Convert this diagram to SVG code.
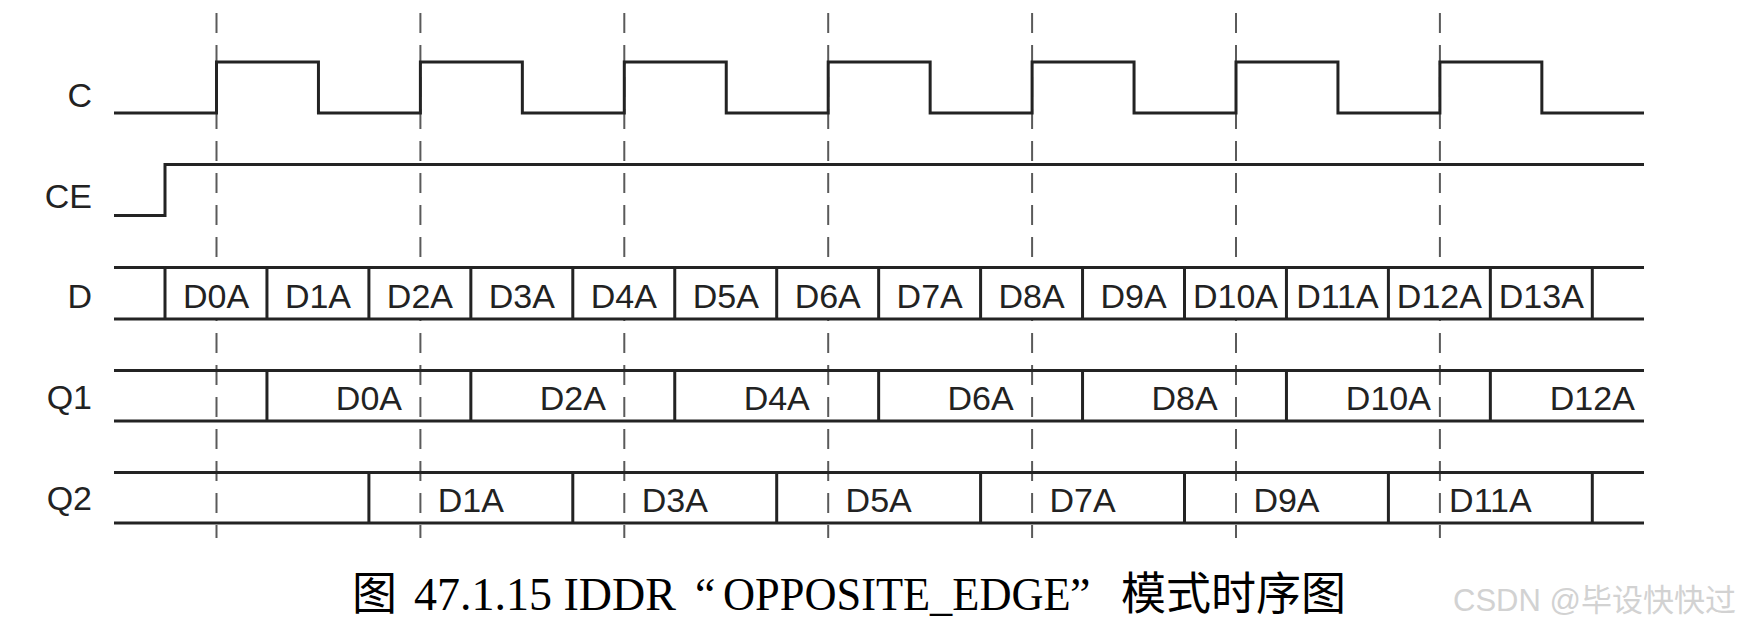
<svg xmlns="http://www.w3.org/2000/svg" width="1758" height="626" viewBox="0 0 1758 626">
<style>
.sig{fill:none;stroke:#232323;stroke-width:3;stroke-linejoin:miter;stroke-linecap:butt}
.guide{fill:none;stroke:#5a5a5a;stroke-width:2;stroke-dasharray:20 12}
.lbl{font-family:"Liberation Sans",Arial,sans-serif;font-size:34px;fill:#222;text-anchor:end}
.val{font-family:"Liberation Sans",Arial,sans-serif;font-size:34px;fill:#222;text-anchor:middle}
.cap{font-family:"Liberation Serif","Times New Roman",serif;font-size:46px;fill:#000}
.cjk{font-family:"Noto Sans CJK SC",sans-serif;font-size:45px;fill:#000}
.wm{font-family:"Liberation Sans","Noto Sans CJK SC",sans-serif;font-size:31px;fill:#d2d2d2}
</style>
<rect x="0" y="0" width="1758" height="626" fill="#ffffff"/>

<g id="connectors">
  <g id="guides-upper">
    <path class="guide" d="M216.5,13V267M420.4,13V267M624.3,13V267M828.2,13V267M1032.1,13V267M1236,13V267M1439.9,13V267"/>
  </g>
  <g id="guides-lower">
    <path class="guide" style="stroke-dashoffset:18" d="M216.5,319V538M420.4,319V538M624.3,319V538M828.2,319V538M1032.1,319V538M1236,319V538M1439.9,319V538"/>
  </g>
</g>

<g id="sig-C">
  <text class="lbl" x="92" y="107">C</text>
  <path class="sig" d="M114,113H216.5V62H318.45V113H420.4V62H522.35V113H624.3V62H726.25V113H828.2V62H930.15V113H1032.1V62H1134.05V113H1236V62H1337.95V113H1439.9V62H1541.85V113H1644"/>
</g>

<g id="sig-CE">
  <text class="lbl" x="92" y="208">CE</text>
  <path class="sig" d="M114,215.5H165V164.5H1644"/>
</g>

<g id="sig-D">
  <text class="lbl" x="92" y="308">D</text>
  <path class="sig" d="M114,267.5H1644M114,319H1644M165,267.5V319M266.95,267.5V319M368.9,267.5V319M470.85,267.5V319M572.8,267.5V319M674.75,267.5V319M776.7,267.5V319M878.65,267.5V319M980.6,267.5V319M1082.55,267.5V319M1184.5,267.5V319M1286.45,267.5V319M1388.4,267.5V319M1490.35,267.5V319M1592.3,267.5V319"/>
  <text class="val" x="216" y="307.5">D0A</text>
  <text class="val" x="317.95" y="307.5">D1A</text>
  <text class="val" x="419.9" y="307.5">D2A</text>
  <text class="val" x="521.85" y="307.5">D3A</text>
  <text class="val" x="623.8" y="307.5">D4A</text>
  <text class="val" x="725.75" y="307.5">D5A</text>
  <text class="val" x="827.7" y="307.5">D6A</text>
  <text class="val" x="929.65" y="307.5">D7A</text>
  <text class="val" x="1031.6" y="307.5">D8A</text>
  <text class="val" x="1133.55" y="307.5">D9A</text>
  <text class="val" x="1235.5" y="307.5">D10A</text>
  <text class="val" x="1337.45" y="307.5">D11A</text>
  <text class="val" x="1439.4" y="307.5">D12A</text>
  <text class="val" x="1541.35" y="307.5">D13A</text>
</g>

<g id="sig-Q1">
  <text class="lbl" x="92" y="409">Q1</text>
  <path class="sig" d="M114,370.5H1644M114,421H1644M266.95,370.5V421M470.85,370.5V421M674.75,370.5V421M878.65,370.5V421M1082.55,370.5V421M1286.45,370.5V421M1490.35,370.5V421"/>
  <text class="val" x="368.9" y="409.5">D0A</text>
  <text class="val" x="572.8" y="409.5">D2A</text>
  <text class="val" x="776.7" y="409.5">D4A</text>
  <text class="val" x="980.6" y="409.5">D6A</text>
  <text class="val" x="1184.5" y="409.5">D8A</text>
  <text class="val" x="1388.4" y="409.5">D10A</text>
  <text class="val" x="1592.3" y="409.5">D12A</text>
</g>

<g id="sig-Q2">
  <text class="lbl" x="92" y="510">Q2</text>
  <path class="sig" d="M114,472.5H1644M114,523H1644M368.9,472.5V523M572.8,472.5V523M776.7,472.5V523M980.6,472.5V523M1184.5,472.5V523M1388.4,472.5V523M1592.3,472.5V523"/>
  <text class="val" x="470.85" y="511.5">D1A</text>
  <text class="val" x="674.75" y="511.5">D3A</text>
  <text class="val" x="878.65" y="511.5">D5A</text>
  <text class="val" x="1082.55" y="511.5">D7A</text>
  <text class="val" x="1286.45" y="511.5">D9A</text>
  <text class="val" x="1490.35" y="511.5">D11A</text>
</g>

<g id="caption">
  <text class="cjk" x="352" y="610">图</text>
  <text class="cap" x="414" y="610">47.1.15 IDDR</text>
  <text class="cap" x="695" y="610">“</text>
  <text class="cap" transform="translate(723,610) scale(0.965,1)" x="0" y="0">OPPOSITE_EDGE</text>
  <text class="cap" x="1070" y="610">”</text>
  <text class="cjk" x="1121" y="610">模式时序图</text>
</g>

<g id="watermark">
  <text class="wm" x="1453" y="611">CSDN @毕设快快过</text>
</g>
</svg>
